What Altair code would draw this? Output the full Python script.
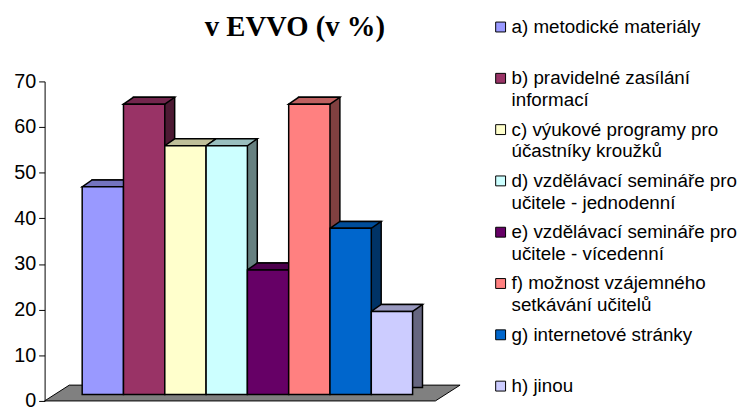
import altair as alt
import pandas as pd

# ---- data ----
CATEGORIES = ["a", "b", "c", "d", "e", "f", "g", "h"]
VALUES = [45.5, 63.6, 54.5, 54.5, 27.3, 63.6, 36.4, 18.2]
LABELS = [
    "a) metodické materiály",
    "b) pravidelné zasílání\ninformací",
    "c) výukové programy pro\núčastníky kroužků",
    "d) vzdělávací semináře pro\nučitele - jednodenní",
    "e) vzdělávací semináře pro\nučitele - vícedenní",
    "f) možnost vzájemného\nsetkávání učitelů",
    "g) internetové stránky",
    "h) jinou",
]
TITLE = ["v EVVO (v %)"]
Y_TICKS = [0, 10, 20, 30, 40, 50, 60, 70]

# ---- palette (front, top and side faces of the 3D bars) ----
FRONT = ["#9999FF", "#993366", "#FFFFCC", "#CCFFFF", "#660066", "#FF8080", "#0066CC", "#CCCCFF"]
TOP = ["#7373BF", "#73264D", "#BFBF99", "#99BFBF", "#4D004D", "#BF6060", "#004D99", "#9999BF"]
SIDE = ["#4D4D80", "#4D1A33", "#808066", "#668080", "#330033", "#804040", "#003366", "#666680"]

df = pd.DataFrame({"cat": CATEGORIES, "value": VALUES, "label": LABELS,
                   "front": FRONT, "top": TOP, "side": SIDE})

# ---- geometry / style ----
W, H = 410, 323
PAD_OUT = 0.91
BAND = W / (len(CATEGORIES) + 2 * PAD_OUT)
DX, DY = 10, 7          # 3D depth offsets in px
LIFT = 6.5              # bars sit in the middle of the floor depth
UNIT = 25.0             # custom symbol half size (px) -> size = (2*UNIT)^2
h = BAND / 2 / UNIT
TOP_PATH = f"M{-h:.4f},0 L{-h + DX / UNIT:.4f},{-DY / UNIT:.4f} L{h + DX / UNIT:.4f},{-DY / UNIT:.4f} L{h:.4f},0 Z"

FLOOR_HALF = 210.0
FLOOR_PATH = (f"M-1,{8 / FLOOR_HALF:.4f} L{-185 / FLOOR_HALF:.4f},{-8 / FLOOR_HALF:.4f} "
              f"L1,{-8 / FLOOR_HALF:.4f} L{185 / FLOOR_HALF:.4f},{8 / FLOOR_HALF:.4f} Z")

x_enc = alt.X("cat:N", sort=CATEGORIES,
              scale=alt.Scale(paddingInner=0, paddingOuter=PAD_OUT), axis=None)
y_enc = alt.Y("value:Q", scale=alt.Scale(domain=[0, 70], nice=False, zero=True),
              axis=alt.Axis(values=Y_TICKS, grid=False, title=None,
                            domainColor="black", domainWidth=1,
                            tickColor="black", tickSize=6, tickWidth=1,
                            labelFont="Liberation Sans", labelFontSize=20,
                            labelColor="black", labelPadding=3))

base = alt.Chart(df)

floor = alt.Chart(pd.DataFrame({"k": [0]})).mark_point(
    shape=FLOOR_PATH, size=(2 * FLOOR_HALF) ** 2, filled=True, fill="#808080",
    stroke="black", strokeWidth=1, opacity=1
).encode(x=alt.value(210), y=alt.value(315))

side = base.mark_bar(
    xOffset=DX, x2Offset=DX, yOffset=-LIFT - DY, y2Offset=-LIFT - DY,
    stroke="black", strokeWidth=1.5
).encode(x=x_enc, y=y_enc, fill=alt.Fill("side:N", scale=None))

top = base.mark_point(
    shape=TOP_PATH, size=(2 * UNIT) ** 2, filled=True, opacity=1,
    stroke="black", strokeWidth=1.5, yOffset=-LIFT
).encode(x=x_enc, y=y_enc, fill=alt.Fill("top:N", scale=None))

front = base.mark_bar(
    yOffset=-LIFT, y2Offset=-LIFT, stroke="black", strokeWidth=1.5
).encode(x=x_enc, y=y_enc, fill=alt.Fill("front:N", scale=None))

bars = alt.layer(floor, side, top, front)

leg_y = alt.Y("cat:N", sort=CATEGORIES,
              scale=alt.Scale(type="point", domain=CATEGORIES, range=[-49, 314], padding=0),
              axis=None)

leg_sq = base.mark_square(
    size=100, filled=True, opacity=1, stroke="black", strokeWidth=1, yOffset=-6
).encode(x=alt.value(461), y=leg_y, fill=alt.Fill("front:N", scale=None))

leg_txt = base.mark_text(
    align="left", baseline="alphabetic", lineBreak="\n", lineHeight=22,
    font="Liberation Sans", fontSize=19, color="black"
).encode(x=alt.value(472), y=leg_y, text="label:N")

title = alt.Chart(pd.DataFrame({"t": TITLE})).mark_text(
    align="center", baseline="alphabetic", font="Liberation Serif",
    fontSize=29, fontWeight="bold", color="black"
).encode(x=alt.value(253), y=alt.value(-46), text="t:N")

chart = alt.layer(bars, leg_sq, leg_txt, title).resolve_scale(y="independent").properties(
    width=W, height=H,
    padding={"left": 37, "top": 72, "right": 295, "bottom": 13},
    autosize=alt.AutoSizeParams(type="none"),
).configure_view(stroke=None)

chart.save("out.html", embed_options={"renderer": "svg", "actions": False})
